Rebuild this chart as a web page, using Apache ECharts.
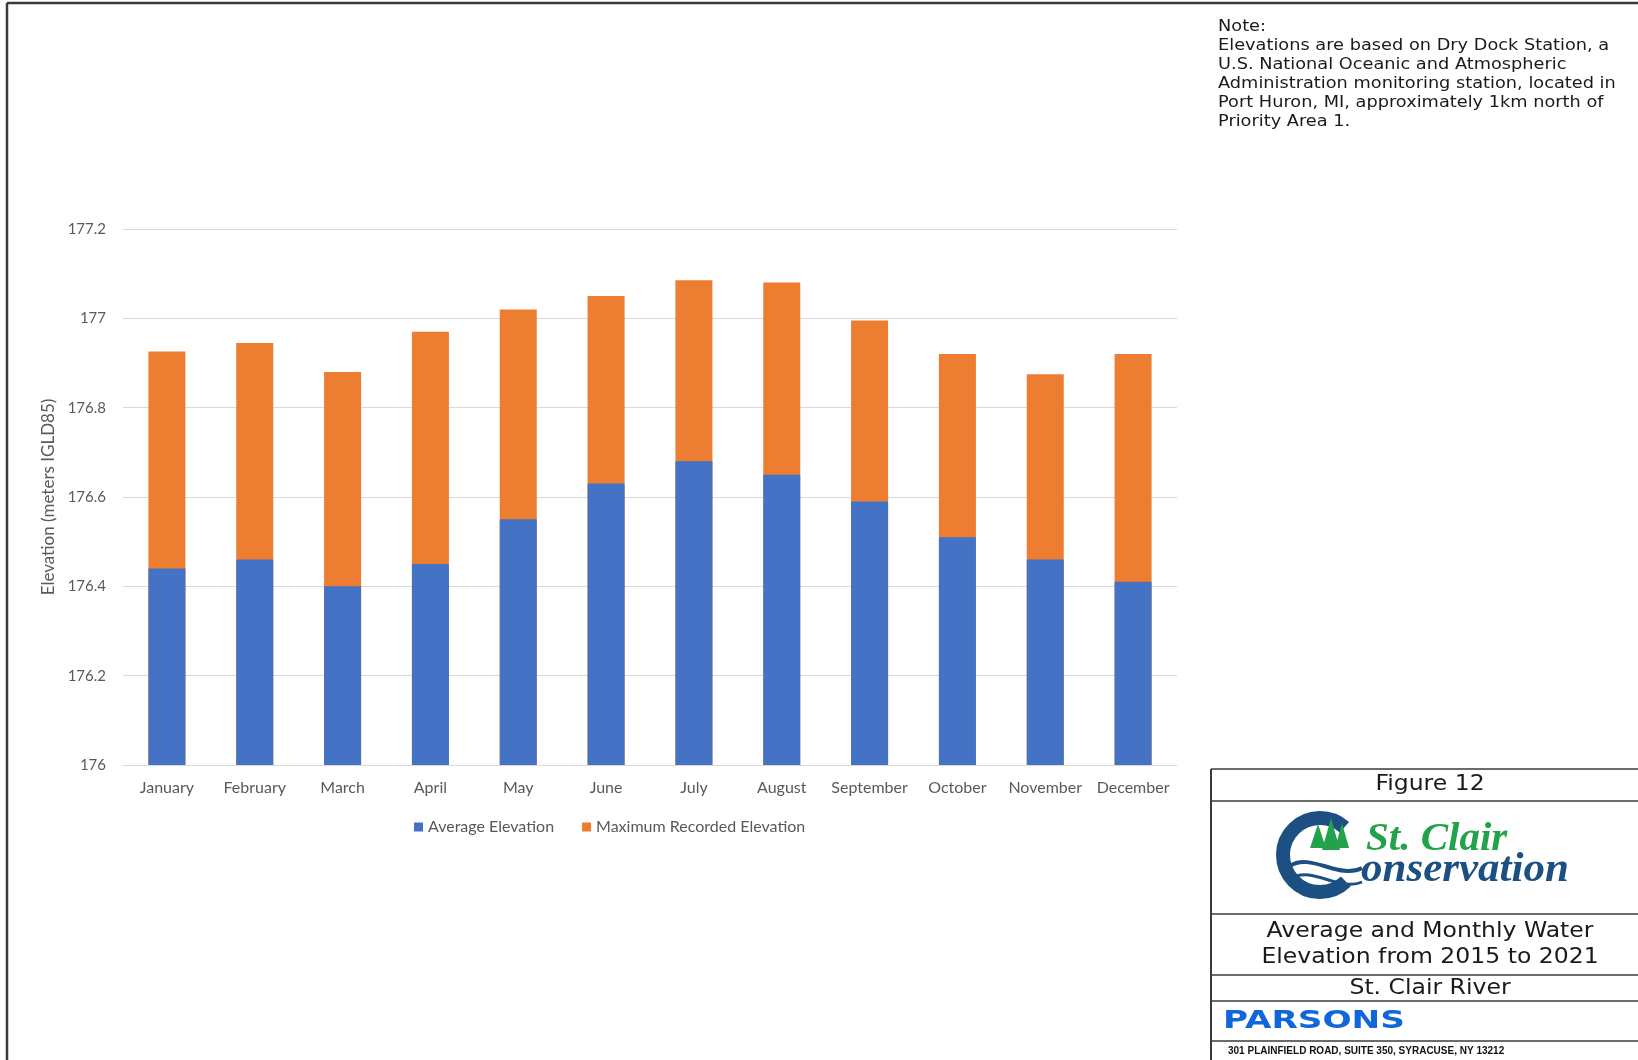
<!DOCTYPE html>
<html>
<head>
<meta charset="utf-8">
<title>St. Clair River water elevation</title>
<script src="https://cdn.jsdelivr.net/npm/echarts@6/dist/echarts.min.js"></script>
<style>
  html, body { margin: 0; padding: 0; background: #fff; }
  #chart { width: 1638px; height: 1060px; }
</style>
</head>
<body>
<div id="chart"></div>
<script>
// monthly values (m, IGLD85)
const months = ["January", "February", "March", "April", "May", "June", "July",
  "August", "September", "October", "November", "December"];
const averageElevation = [176.44, 176.46, 176.40, 176.45, 176.55, 176.63, 176.68,
  176.65, 176.59, 176.51, 176.46, 176.41];
const maximumElevation = [176.926, 176.945, 176.88, 176.97, 177.02, 177.05, 177.085,
  177.08, 176.995, 176.92, 176.875, 176.92];
const yTicks = { min: 176, max: 177.2, step: 0.2 };

const noteLines = [
  "Note:",
  "Elevations are based on Dry Dock Station, a",
  "U.S. National Oceanic and Atmospheric",
  "Administration monitoring station, located in",
  "Port Huron, MI, approximately 1km north of",
  "Priority Area 1."
];

const labelColor = "#595959";
const gridColor = "#d9d9d9";
const cadFont = "'DejaVu Sans', sans-serif";
const navy = "#1c4f82";
const green = "#22a24a";

const myChart = echarts.init(document.getElementById("chart"), null, { renderer: "canvas" });

// title block frame lines (right bottom corner)
const frameLine = (x1, y1, x2, y2, w) => ({
  type: "line",
  shape: { x1, y1, x2, y2 },
  style: { stroke: "#3a3a3a", lineWidth: w || 1.5 },
  silent: true
});

// centred CAD-style text, stretched a little to mimic the plotter font
const cadText = (x, y, text, extra) => ({
  type: "text",
  x, y, scaleX: 1.12, originX: 0, originY: 0,
  style: Object.assign({
    text, font: "21px " + cadFont, fill: "#1a1a1a", align: "center", verticalAlign: "middle"
  }, extra || {})
});

const graphic = [
  // sheet border
  frameLine(7, 3, 1638, 3, 2.5),
  frameLine(7, 3, 7, 1060, 2.5),
  // title block
  frameLine(1211, 769, 1211, 1060, 2),
  frameLine(1211, 769, 1638, 769),
  frameLine(1211, 801, 1638, 801),
  frameLine(1211, 914, 1638, 914),
  frameLine(1211, 975, 1638, 975),
  frameLine(1211, 1001, 1638, 1001),
  frameLine(1211, 1041, 1638, 1041),
  {
    type: "text",
    x: 1218, y: 17, scaleX: 1.145, originX: 0, originY: 0,
    style: {
      text: noteLines.join("\n"),
      font: "15.5px " + cadFont,
      lineHeight: 19,
      fill: "#1a1a1a"
    }
  },
  cadText(1430, 785, "Figure 12"),
  cadText(1430, 945, "Average and Monthly Water\nElevation from 2015 to 2021", { lineHeight: 26 }),
  cadText(1430, 989, "St. Clair River"),
  {
    type: "text",
    x: 1223, y: 1021, scaleX: 1.37, originX: 0, originY: 0,
    style: { text: "PARSONS", font: "bold 25px " + cadFont, fill: "#1166d9", verticalAlign: "middle" }
  },
  {
    type: "text",
    x: 1228, y: 1051,
    style: {
      text: "301 PLAINFIELD ROAD, SUITE 350, SYRACUSE, NY 13212",
      font: "bold 10px 'Liberation Sans', sans-serif", fill: "#111", verticalAlign: "middle"
    }
  },
  // St. Clair Conservation logo
  {
    type: "arc",
    shape: { cx: 1320, cy: 855, r: 37, startAngle: 0.8, endAngle: Math.PI * 2 - 0.85 },
    style: { stroke: navy, lineWidth: 14, fill: null }
  },
  {
    type: "polygon",
    shape: { points: [[1310, 848], [1318, 824], [1326, 848]] },
    style: { fill: green }
  },
  {
    type: "polygon",
    shape: { points: [[1322, 850], [1331, 818], [1340, 850]] },
    style: { fill: green }
  },
  {
    type: "polygon",
    shape: { points: [[1335, 848], [1342, 823], [1349, 848]] },
    style: { fill: green }
  },
  {
    type: "bezierCurve",
    shape: { x1: 1290, y1: 866, cpx1: 1310, cpy1: 852, x2: 1362, y2: 868, cpx2: 1340, cpy2: 880 },
    style: { stroke: navy, lineWidth: 4, fill: null }
  },
  {
    type: "bezierCurve",
    shape: { x1: 1292, y1: 878, cpx1: 1312, cpy1: 866, x2: 1362, y2: 882, cpx2: 1340, cpy2: 892 },
    style: { stroke: navy, lineWidth: 3, fill: null }
  },
  {
    type: "text",
    x: 1366, y: 839,
    style: { text: "St. Clair", font: "italic bold 41px 'Liberation Serif', serif", fill: green, verticalAlign: "middle" }
  },
  {
    type: "text",
    x: 1361, y: 870,
    style: { text: "onservation", font: "italic bold 43px 'Liberation Serif', serif", fill: navy, verticalAlign: "middle" }
  }
];

const option = {
  backgroundColor: "#fff",
  animation: false,
  textStyle: { fontFamily: "Lato, 'Open Sans', sans-serif" },
  grid: { left: 123, right: 461, top: 229, bottom: 295 },
  legend: {
    left: 409,
    top: 814,
    icon: "rect",
    itemWidth: 9,
    itemHeight: 9,
    itemGap: 28,
    textStyle: { color: labelColor, fontSize: 16 },
    data: ["Average Elevation", "Maximum Recorded Elevation"]
  },
  xAxis: {
    type: "category",
    data: months,
    axisLine: { lineStyle: { color: gridColor, width: 1 } },
    axisTick: { show: false },
    axisLabel: { color: labelColor, fontSize: 16, margin: 15, interval: 0 }
  },
  yAxis: {
    type: "value",
    min: yTicks.min,
    max: yTicks.max,
    interval: yTicks.step,
    name: "Elevation (meters IGLD85)",
    nameLocation: "middle",
    nameGap: 65,
    nameTextStyle: { color: labelColor, fontSize: 17 },
    axisLine: { show: false },
    axisTick: { show: false },
    axisLabel: {
      color: labelColor, fontSize: 15, margin: 17,
      formatter: v => String(+v.toFixed(1))
    },
    splitLine: { lineStyle: { color: gridColor, width: 1 } }
  },
  series: [
    {
      name: "Average Elevation",
      type: "bar",
      data: averageElevation,
      barWidth: 37,
      barGap: "-100%",
      z: 3,
      itemStyle: { color: "#4472c4" }
    },
    {
      name: "Maximum Recorded Elevation",
      type: "bar",
      data: maximumElevation,
      barWidth: 37,
      barGap: "-100%",
      z: 2,
      itemStyle: { color: "#ed7d31" }
    }
  ],
  graphic: graphic
};

myChart.setOption(option);
</script>
</body>
</html>
